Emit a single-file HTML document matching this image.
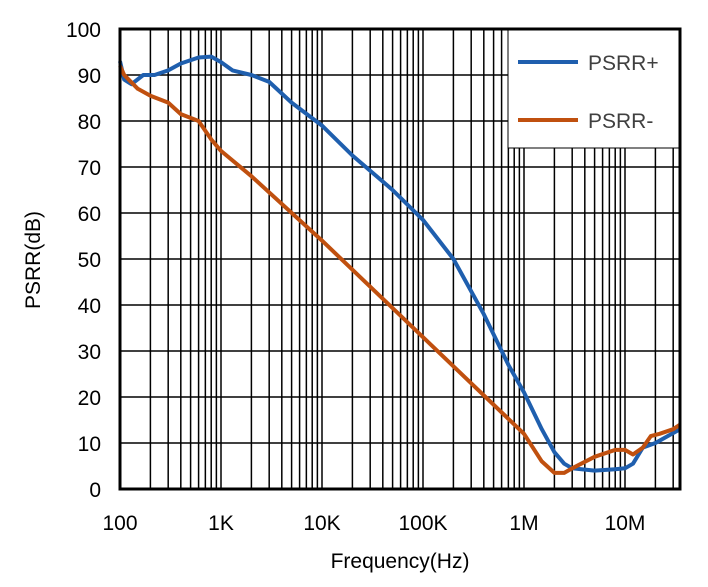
<!DOCTYPE html>
<html><head><meta charset="utf-8"><style>body{margin:0;background:#fff}svg{display:block}</style></head>
<body>
<svg id="s" width="708" height="587" xmlns="http://www.w3.org/2000/svg" font-family="Liberation Sans, sans-serif" font-size="21">
<g id="grid" stroke="#000" stroke-width="1.5"></g>
<polyline id="b" fill="none" stroke="#1f5fae" stroke-width="4" stroke-linejoin="round"/>
<polyline id="o" fill="none" stroke="#c0500f" stroke-width="4" stroke-linejoin="round"/>
<rect x="120" y="29" width="560" height="460" fill="none" stroke="#000" stroke-width="3"/>
<rect x="508" y="30" width="171" height="118" fill="#fff" stroke="#000" stroke-width="1"/>
<line x1="518" y1="62" x2="578" y2="62" stroke="#1f5fae" stroke-width="4"/>
<line x1="518" y1="120" x2="578" y2="120" stroke="#c0500f" stroke-width="4"/>
<text x="588" y="70" fill="#404040">PSRR+</text>
<text x="588" y="128" fill="#404040">PSRR-</text>
<g text-anchor="end">
<text x="101" y="37">100</text><text x="101" y="83">90</text><text x="101" y="129">80</text><text x="101" y="175">70</text><text x="101" y="221">60</text><text x="101" y="267">50</text><text x="101" y="313">40</text><text x="101" y="359">30</text><text x="101" y="405">20</text><text x="101" y="451">10</text><text x="101" y="497">0</text>
</g>
<g text-anchor="middle">
<text x="120" y="530">100</text><text x="221" y="530">1K</text><text x="322" y="530">10K</text><text x="423" y="530">100K</text><text x="524" y="530">1M</text><text x="625" y="530">10M</text>
<text x="400" y="568">Frequency(Hz)</text>
<text transform="translate(40,260) rotate(-90)">PSRR(dB)</text>
</g>
</svg>
<script>
const X=f=>120+101*Math.log10(f/100), Y=v=>489-4.6*v;
let g=document.getElementById('grid'),h='';
for(let v=10;v<100;v+=10)h+=`<line x1="120" x2="680" y1="${Y(v)}" y2="${Y(v)}"/>`;
for(let d=100;d<=1e7;d*=10)for(let k=1;k<10;k++){let x=X(d*k);if(x>120&&x<680)h+=`<line y1="29" y2="489" x1="${x}" x2="${x}"/>`;}
g.innerHTML=h;
const B=[[100,93],[105,91],[110,89],[130,88],[170,90],[220,90],[300,91],[400,92.5],[600,93.8],[800,94],[1000,92.8],[1300,91],[2000,90],[3000,88.5],[5000,84],[1e4,79],[2e4,72.5],[5e4,65],[1e5,58.5],[2e5,50],[4e5,38],[7e5,27],[1e6,21],[1.5e6,13],[2e6,8],[2.5e6,5.5],[3e6,4.5],[5e6,4],[8e6,4.3],[1e7,4.5],[1.2e7,5.5],[1.5e7,9],[2e7,10],[3.5e7,13]];
const O=[[100,92],[110,90],[150,87],[200,85.5],[300,84],[400,81.5],[600,80],[800,76],[1000,73.5],[2000,68],[1e4,54],[1e5,33],[1e6,12],[1.5e6,6],[2e6,3.5],[2.5e6,3.5],[3e6,4.5],[5e6,7],[8e6,8.5],[1e7,8.5],[1.2e7,7.5],[1.5e7,9],[1.8e7,11.5],[2.2e7,12],[3e7,13],[3.5e7,14]];
const P=a=>a.map(p=>Math.min(X(p[0]),680)+','+Y(p[1])).join(' ');
document.getElementById('b').setAttribute('points',P(B));
document.getElementById('o').setAttribute('points',P(O));
</script>
</body></html>
